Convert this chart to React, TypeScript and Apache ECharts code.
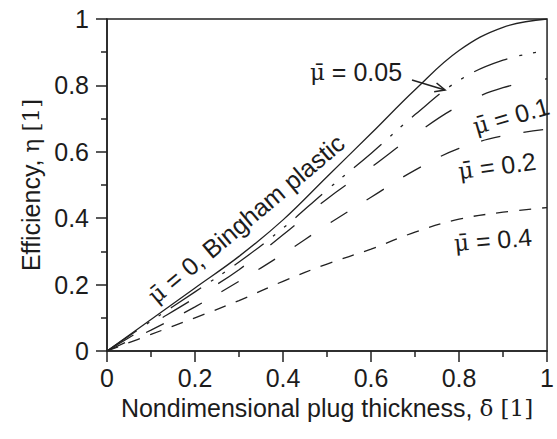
import React, { useEffect, useRef } from "react";
import * as echarts from "echarts";

// Nondimensional plug thickness (x)
const deltaValues = [0, 0.1, 0.2, 0.3, 0.4, 0.5, 0.6, 0.7, 0.8, 0.9, 1.0];
// Efficiency for each mu-bar
const etaMu0 = [0, 0.095, 0.19, 0.285, 0.395, 0.525, 0.655, 0.787, 0.905, 0.975, 1.0];
const etaMu005 = [0, 0.09, 0.178, 0.268, 0.37, 0.485, 0.595, 0.712, 0.815, 0.876, 0.905];
const etaMu01 = [0, 0.08, 0.16, 0.245, 0.35, 0.458, 0.553, 0.652, 0.738, 0.793, 0.82];
const etaMu02 = [0, 0.063, 0.133, 0.21, 0.292, 0.38, 0.463, 0.545, 0.61, 0.648, 0.668];
const etaMu04 = [0, 0.05, 0.1, 0.152, 0.21, 0.262, 0.307, 0.358, 0.397, 0.418, 0.432];

const xTicks = [0, 0.2, 0.4, 0.6, 0.8, 1];
const yTicks = [0, 0.2, 0.4, 0.6, 0.8, 1];

const SANS = "'Liberation Sans', Arial, Helvetica, sans-serif";
const SERIF = "'DejaVu Serif', 'Liberation Serif', serif";
const INK = "#1c1c1c";
const FS = 25;

const pairs = (ys: number[]) => deltaValues.map((d, i) => [d, ys[i]]);

const richBase = {
  a: { fontFamily: SANS, fontSize: FS, color: INK },
  s: { fontFamily: SERIF, fontSize: FS - 2, color: INK },
};

function label(text: string, x: number, y: number, deg: number) {
  return {
    type: "text",
    x,
    y,
    rotation: (deg * Math.PI) / 180,
    style: {
      text,
      rich: richBase,
      align: "center",
      verticalAlign: "middle",
      fill: INK,
    },
    z: 10,
  };
}

export default function App() {
  const ref = useRef<HTMLDivElement>(null);
  useEffect(() => {
    if (!ref.current) return;
    const chart = echarts.init(ref.current, undefined, { renderer: "svg" });
    const mkLine = (name: string, ys: number[], type: any) => ({
      name,
      type: "line",
      data: pairs(ys),
      showSymbol: false,
      smooth: 0.4,
      lineStyle: { color: "#222", width: 1.3, type },
      z: 3,
    });
    const dir = [0.964, 0.267];
    const tip = [445, 90];
    const back = [tip[0] - 10 * dir[0], tip[1] - 10 * dir[1]];
    const perp = [-dir[1], dir[0]];
    chart.setOption({
      animation: false,
      backgroundColor: "#ffffff",
      grid: {
        left: 107,
        right: 5,
        top: 19,
        bottom: 88,
        show: true,
        borderColor: "#222",
        borderWidth: 1.5,
        backgroundColor: "transparent",
      },
      xAxis: {
        type: "value",
        min: 0,
        max: 1,
        interval: 0.2,
        name: "{a|Nondimensional plug thickness, }{s|δ\u0304 [1]}",
        nameLocation: "middle",
        nameGap: 44,
        nameTextStyle: { rich: richBase },
        axisLine: { show: true, lineStyle: { color: "#222", width: 1.5 } },
        axisTick: { show: true, length: 11, lineStyle: { color: "#222", width: 1.5 } },
        minorTick: { show: true, splitNumber: 2, length: 6, lineStyle: { color: "#222", width: 1.5 } },
        splitLine: { show: false },
        minorSplitLine: { show: false },
        axisLabel: {
          fontFamily: SANS,
          fontSize: FS,
          color: INK,
          margin: 14,
          formatter: (v: number) => (xTicks.includes(Math.round(v * 10) / 10) ? String(Math.round(v * 10) / 10) : ""),
        },
      },
      yAxis: {
        type: "value",
        min: 0,
        max: 1,
        interval: 0.2,
        name: "{a|Efficiency, }{s|η [1]}",
        nameLocation: "middle",
        nameRotate: 90,
        nameGap: 56,
        nameTextStyle: { rich: richBase },
        axisLine: { show: true, lineStyle: { color: "#222", width: 1.5 } },
        axisTick: { show: true, length: 11, lineStyle: { color: "#222", width: 1.5 } },
        minorTick: { show: true, splitNumber: 2, length: 6, lineStyle: { color: "#222", width: 1.5 } },
        splitLine: { show: false },
        minorSplitLine: { show: false },
        axisLabel: {
          fontFamily: SANS,
          fontSize: FS,
          color: INK,
          margin: 18,
          formatter: (v: number) => (yTicks.includes(Math.round(v * 10) / 10) ? String(Math.round(v * 10) / 10) : ""),
        },
      },
      series: [
        mkLine("mu=0", etaMu0, "solid"),
        mkLine("mu=0.05", etaMu005, [36, 12, 3, 11, 3, 12]),
        mkLine("mu=0.1", etaMu01, [31, 34]),
        mkLine("mu=0.2", etaMu02, [20, 23]),
        mkLine("mu=0.4", etaMu04, [12, 11]),
      ],
      graphic: [
        label("{s|μ\u0304}{a| = 0, Bingham plastic}", 246, 219, 40),
        label("{s|μ\u0304}{a| = 0.05}", 356, 72, 0),
        label("{s|μ\u0304}{a| = 0.1}", 511, 116, 16),
        label("{s|μ\u0304}{a| = 0.2}", 497, 166, 8),
        label("{s|μ\u0304}{a| = 0.4}", 493, 240, 5),
        {
          type: "line",
          shape: { x1: 412, y1: 80, x2: tip[0], y2: tip[1] },
          style: { stroke: "#222", lineWidth: 1.6 },
          z: 10,
        },
        {
          type: "polyline",
          shape: {
            points: [
              [back[0] + 4.5 * perp[0], back[1] + 4.5 * perp[1]],
              tip,
              [back[0] - 4.5 * perp[0], back[1] - 4.5 * perp[1]],
            ],
          },
          style: { stroke: "#222", lineWidth: 1.6, fill: null },
          z: 10,
        },
      ],
    });
    return () => chart.dispose();
  }, []);
  return (
    <div
      ref={ref}
      style={{ position: "fixed", left: 0, top: 0, width: 557, height: 439, background: "#fff" }}
    />
  );
}
